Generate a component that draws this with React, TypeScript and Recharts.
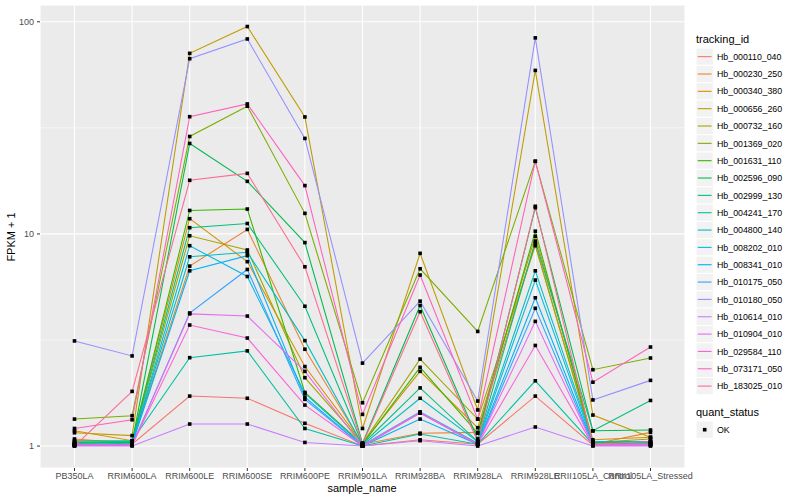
import React from 'react';
import { LineChart, Line, XAxis, YAxis, CartesianGrid } from 'recharts';

const samples = ['PB350LA','RRIM600LA','RRIM600LE','RRIM600SE','RRIM600PE','RRIM901LA','RRIM928BA','RRIM928LA','RRIM928LE','RRII105LA_Control','RRII105LA_Stressed'];

const trackingIds = ['Hb_000110_040','Hb_000230_250','Hb_000340_380','Hb_000656_260','Hb_000732_160','Hb_001369_020','Hb_001631_110','Hb_002596_090','Hb_002999_130','Hb_004241_170','Hb_004800_140','Hb_008202_010','Hb_008341_010','Hb_010175_050','Hb_010180_050','Hb_010614_010','Hb_010904_010','Hb_029584_110','Hb_073171_050','Hb_183025_010'];

const seriesColors = ['#F8766D','#EA8331','#D89000','#C09B00','#A3A500','#7CAE00','#39B600','#00BB4E','#00BF7D','#00C1A3','#00BFC4','#00BAE0','#00B0F6','#35A2FF','#9590FF','#C77CFF','#E76BF3','#FA62DB','#FF62BC','#FF6C91'];

const seriesValues: number[][] = [
  [1.02,1.02,1.72,1.68,1.28,1.0,1.07,1.02,1.72,1.01,1.05],
  [1.08,1.03,7.05,10.5,2.86,1.02,1.15,1.16,9.0,1.02,1.16],
  [1.18,1.06,11.8,7.4,2.37,1.03,2.25,1.22,9.75,1.07,1.10],
  [1.155,1.12,71,95,35.6,1.21,8.1,1.48,59,1.4,1.1],
  [1.05,1.04,9.8,8.4,2.1,1.03,2.57,1.34,8.8,1.04,1.08],
  [1.34,1.39,28.8,40,12.5,1.6,6.85,3.47,22,2.29,2.6],
  [1.03,1.05,12.9,13.1,1.79,1.02,2.35,1.15,10.3,1.04,1.04],
  [1.03,1.04,26.7,17.7,9.1,1.03,4.6,1.08,13.3,1.18,1.19],
  [1.04,1.05,10.7,11.2,4.56,1.02,1.88,1.05,9.25,1.18,1.64],
  [1.06,1.06,2.61,2.81,1.21,1.0,1.14,1.02,2.03,1.02,1.02],
  [1.02,1.03,7.8,8.2,3.14,1.01,1.68,1.05,6.7,1.05,1.05],
  [1.01,1.02,8.8,6.3,1.77,1.01,1.45,1.03,6.06,1.03,1.03],
  [1.01,1.02,6.7,7.9,1.7,1.0,1.34,1.02,5.0,1.02,1.02],
  [1.01,1.01,4.24,6.8,1.66,1.0,1.43,1.02,4.46,1.01,1.01],
  [3.13,2.66,67,83,28.2,2.46,4.82,1.63,84,1.65,2.04],
  [1.0,1.0,1.27,1.27,1.04,1.0,1.06,1.0,1.23,1.0,1.0],
  [1.01,1.01,4.2,4.1,2.25,1.0,1.44,1.02,3.87,1.01,1.02],
  [1.01,1.01,3.72,3.23,1.56,1.0,1.43,1.02,2.98,1.01,1.01],
  [1.21,1.33,35.7,41,16.9,1.41,6.4,1.34,22,2.0,2.93],
  [1.0,1.81,17.9,19.3,7.0,1.02,4.3,1.05,13.5,1.02,1.05],
];

const yTicks = [1, 10, 100];
const yMinorTicks = [3.1623, 31.623];
const yDomain = [0.788, 120];

const rows = samples.map((s, i) => {
  const r: Record<string, any> = { sample: s };
  trackingIds.forEach((id, k) => { r[id] = seriesValues[k][i]; });
  return r;
});

const FONT = '"Liberation Sans", Arial, Helvetica, sans-serif';

const SquareDot = (props: any) => {
  const { cx, cy } = props;
  if (cx == null || cy == null) return null;
  return <rect x={cx - 1.8} y={cy - 1.8} width={3.6} height={3.6} fill="#000" />;
};

const LegendPanel = () => {
  const x0 = 696;
  const keyTop = 48;
  const step = 17.34;
  return (
    <svg width={800} height={500} style={{ position: 'absolute', left: 0, top: 0, pointerEvents: 'none' }}>
      <text x={x0} y={43} fontSize={11} fontFamily={FONT} fill="#000">tracking_id</text>
      {trackingIds.map((id, k) => {
        const y = keyTop + k * step;
        return (
          <g key={id}>
            <rect x={x0} y={y} width={17.3} height={17.3} fill="#F2F2F2" stroke="#fff" strokeWidth={1} />
            <line x1={x0 + 1.7} x2={x0 + 15.6} y1={y + 8.65} y2={y + 8.65} stroke={seriesColors[k]} strokeWidth={1.1} />
            <text x={x0 + 21} y={y + 11.8} fontSize={8.8} fontFamily={FONT} fill="#000">{id}</text>
          </g>
        );
      })}
      <text x={x0} y={416} fontSize={11} fontFamily={FONT} fill="#000">quant_status</text>
      <rect x={x0} y={421} width={17.3} height={17.3} fill="#F2F2F2" stroke="#fff" strokeWidth={1} />
      <rect x={x0 + 6.9} y={427.9} width={3.6} height={3.6} fill="#000" />
      <text x={x0 + 21} y={433} fontSize={8.8} fontFamily={FONT} fill="#000">OK</text>
    </svg>
  );
};

export default function App() {
  return (
    <div style={{ position: 'absolute', left: 0, top: 0, width: 800, height: 500, background: '#fff' }}>
      <LineChart width={800} height={500} data={rows} margin={{ top: 5, right: 115, bottom: 0, left: 0 }}>
        <CartesianGrid fill="#EBEBEB" stroke="#fff" strokeWidth={0.55} vertical={false} horizontalValues={yMinorTicks} />
        <CartesianGrid fill="none" stroke="#fff" strokeWidth={1.1} />
        <XAxis
          dataKey="sample"
          type="category"
          interval={0}
          padding={{ left: 34.5, right: 34.5 }}
          height={32}
          axisLine={false}
          tickLine={{ stroke: '#333333' }}
          tickSize={3}
          tickMargin={2}
          tick={{ fill: '#4D4D4D', fontSize: 9, fontFamily: FONT }}
          label={{
            content: () => (
              <text x={362} y={492} textAnchor="middle" fontSize={11} fontFamily={FONT} fill="#000">sample_name</text>
            ),
          }}
        />
        <YAxis
          scale="log"
          type="number"
          domain={yDomain}
          allowDataOverflow
          ticks={yTicks}
          width={40}
          axisLine={false}
          tickLine={{ stroke: '#333333' }}
          tickSize={3}
          tickMargin={3}
          tick={{ fill: '#4D4D4D', fontSize: 9, fontFamily: FONT }}
          label={{
            content: () => (
              <text x={15} y={237} transform="rotate(-90 15 237)" textAnchor="middle" fontSize={11} fontFamily={FONT} fill="#000">FPKM + 1</text>
            ),
          }}
        />
        {trackingIds.map((id, k) => (
          <Line
            key={id}
            dataKey={id}
            type="linear"
            stroke={seriesColors[k]}
            strokeWidth={1.07}
            dot={false}
            activeDot={false}
            isAnimationActive={false}
          />
        ))}
        {trackingIds.map((id) => (
          <Line
            key={id + '_pts'}
            dataKey={id}
            type="linear"
            stroke="none"
            dot={<SquareDot />}
            activeDot={false}
            legendType="none"
            isAnimationActive={false}
          />
        ))}
      </LineChart>
      <LegendPanel />
    </div>
  );
}
